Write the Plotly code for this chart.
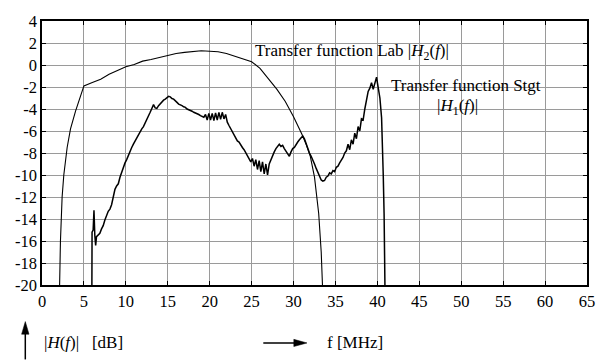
import plotly.graph_objects as go

# ---- data ----
h2_f = [2.1, 2.2, 2.4, 2.6, 3.0, 3.4, 4.0, 4.6, 5.0, 6.0, 7.0, 8.0, 9.0, 10.0, 11.0, 12.0,
        13.0, 14.0, 15.0, 16.0, 17.0, 18.0, 19.0, 20.0, 21.0, 22.0, 23.0, 24.0, 25.0,
        26.0, 27.0, 28.0, 29.0, 30.0, 31.0, 31.5, 32.0, 32.5, 33.0, 33.3, 33.45]
h2_db = [-20, -16, -12, -10, -7.5, -5.8, -4.2, -2.8, -1.9, -1.6, -1.3, -0.85, -0.5, -0.15,
         0.05, 0.35, 0.5, 0.7, 0.85, 1.05, 1.15, 1.25, 1.3, 1.25, 1.2, 1.05, 0.8, 0.55, 0.3,
         -0.3, -1.2, -2.2, -3.3, -4.7, -6.3, -7.2, -8.3, -10.2, -13.5, -17, -20]

h1_f = [5.95, 5.97, 6.1, 6.2, 6.3, 6.4, 6.5, 6.7, 6.9, 7.1, 7.3, 7.5, 7.7, 7.9, 8.1, 8.3,
        8.5, 8.7, 8.9, 9.1, 9.3, 9.5, 9.7, 9.9, 10.1, 10.3, 10.5, 10.7, 10.9, 11.1, 11.3,
        11.5, 11.7, 11.9, 12.1, 12.3, 12.5, 12.7, 12.9, 13.1, 13.3, 13.5, 13.7, 13.9, 14.1,
        14.3, 14.5, 14.7, 14.9, 15.1, 15.3, 15.5, 15.7, 15.9, 16.1, 16.3, 16.5, 16.7, 16.9,
        17.1, 17.3, 17.5, 17.7, 17.9, 18.1, 18.3, 18.5, 18.7, 18.9, 19.1, 19.3, 19.5, 19.7,
        19.9, 20.1, 20.3, 20.5, 20.7, 20.9, 21.1, 21.3, 21.5, 21.7, 21.9, 22.1, 22.3, 22.5,
        22.7, 22.9, 23.1, 23.3, 23.5, 23.7, 23.9, 24.1, 24.3, 24.5, 24.7, 24.9, 25.1, 25.3,
        25.5, 25.7, 25.9, 26.1, 26.3, 26.5, 26.7, 26.9, 27.1, 27.3, 27.5, 27.7, 27.9, 28.1,
        28.3, 28.5, 28.7, 28.9, 29.1, 29.3, 29.5, 29.7, 29.9, 30.1, 30.3, 30.5, 30.7, 30.9,
        31.1, 31.3, 31.5, 31.7, 31.9, 32.1, 32.3, 32.5, 32.7, 32.9, 33.1, 33.3, 33.5, 33.7,
        33.9, 34.1, 34.3, 34.5, 34.7, 34.9, 35.1, 35.3, 35.5, 35.7, 35.9, 36.1, 36.3, 36.5,
        36.7, 36.9, 37.1, 37.3, 37.5, 37.7, 37.9, 38.1, 38.3, 38.5, 38.7, 38.9, 39.1, 39.3,
        39.5, 39.7, 39.9, 40.0, 40.1, 40.3, 40.5, 40.6, 40.7, 40.8, 40.9]
h1_db = [-20, -15.2, -15.0, -13.2, -15.5, -16.4, -15.6, -15.4, -15.3, -14.9, -14.6, -14.1,
         -13.6, -13.3, -13.1, -12.7, -12.0, -11.3, -11.0, -10.8, -10.2, -9.7, -9.3, -8.9,
         -8.6, -8.2, -7.9, -7.5, -7.2, -6.9, -6.6, -6.3, -6.0, -5.8, -5.6, -5.3, -5.0, -4.7,
         -4.3, -3.95, -3.6, -3.9, -3.95, -3.7, -3.5, -3.4, -3.2, -3.1, -3.0, -2.85, -2.9,
         -3.05, -3.1, -3.3, -3.4, -3.55, -3.6, -3.7, -3.8, -3.85, -4.0, -4.05, -4.15, -4.2,
         -4.3, -4.35, -4.45, -4.5, -4.6, -4.7, -4.75, -4.5, -5.0, -4.4, -5.0, -4.4, -5.05,
         -4.35, -5.0, -4.3, -4.95, -4.3, -4.9, -4.5, -5.2, -5.5, -5.8, -6.0, -6.3, -6.6,
         -6.9, -7.0, -7.3, -7.5, -7.7, -8.0, -8.3, -8.6, -8.8, -8.5, -9.2, -8.6, -9.5, -8.7,
         -9.7, -8.8, -9.9, -9.0, -10.0, -9.0, -8.6, -8.3, -7.9, -7.6, -7.4, -7.2, -7.4, -7.3,
         -7.6, -7.8, -8.0, -8.3, -7.9, -7.6, -7.5, -7.2, -7.0, -6.8, -6.6, -6.45, -6.7, -7.2,
         -7.6, -8.0, -8.3, -8.6, -9.0, -9.4, -9.8, -10.2, -10.45, -10.55, -10.5, -10.2, -10.1,
         -9.8, -9.9, -9.6, -9.7, -9.3, -9.2, -8.9, -8.7, -8.4, -8.0, -7.8, -7.2, -7.7, -6.8,
         -7.2, -6.2, -6.7, -5.6, -6.0, -4.9, -5.0, -4.0, -3.0, -2.4, -2.1, -1.6, -2.2, -1.5,
         -1.1, -1.6, -2.2, -3.0, -4.8, -7.0, -10.0, -13.5, -20]

x_ticks = [0, 5, 10, 15, 20, 25, 30, 35, 40, 45, 50, 55, 60, 65]
y_ticks = [4, 2, 0, -2, -4, -6, -8, -10, -12, -14, -16, -18, -20]
y_labels = ["4", "2", "0", "-2", "-4", "-6", "-8", "-10", "-12", "-14", "-16", "-18", "-20"]

FONT = "Liberation Serif"
W, H = 609, 360
L, R, T, B = 41.7, 22.3, 13.3, 74.7
PW, PH = W - L - R, H - T - B


def px(x):
    return (x - L) / PW


def py(y):
    return (H - B - y) / PH


fig = go.Figure()
fig.add_trace(go.Scatter(x=h2_f, y=h2_db, mode="lines",
                         line=dict(color="black", width=1.1), showlegend=False))
fig.add_trace(go.Scatter(x=h1_f, y=h1_db, mode="lines",
                         line=dict(color="black", width=1.5), showlegend=False))

axis_common = dict(showline=True, linecolor="black", linewidth=1.5, mirror="ticks",
                   ticks="inside", ticklen=4, tickcolor="black", tickwidth=1,
                   showgrid=True, gridcolor="#9a9a9a", gridwidth=1, zeroline=False,
                   tickfont=dict(family=FONT, size=16.5, color="black"))

fig.update_xaxes(range=[0, 65], tickvals=x_ticks, ticktext=[str(v) for v in x_ticks],
                 **axis_common)
fig.update_yaxes(range=[-20, 4], tickvals=y_ticks, ticktext=y_labels, **axis_common)

txt = dict(family=FONT, size=17, color="black")
fig.add_annotation(xref="paper", yref="paper", x=px(253), y=py(45), xanchor="left",
                   yanchor="middle", showarrow=False, font=txt,
                   text="Transfer function Lab |<i>H</i><sub>2</sub>(<i>f</i>)|")
fig.add_annotation(xref="paper", yref="paper", x=px(465.5), y=py(80), xanchor="center",
                   yanchor="middle", showarrow=False, font=txt,
                   text="Transfer function Stgt")
fig.add_annotation(xref="paper", yref="paper", x=px(456.7), y=py(102), xanchor="center",
                   yanchor="middle", showarrow=False, font=txt,
                   text="|<i>H</i><sub>1</sub>(<i>f</i>)|")
fig.add_annotation(xref="paper", yref="paper", x=px(42), y=py(345), xanchor="left",
                   yanchor="middle", showarrow=False, font=txt,
                   text="|<i>H</i>(<i>f</i>)|\u00a0\u00a0\u00a0[dB]")
fig.add_annotation(xref="paper", yref="paper", x=px(325), y=py(345), xanchor="left",
                   yanchor="middle", showarrow=False, font=txt,
                   text="f [MHz]")

# arrows as shapes (line + filled head)
line_style = dict(color="black", width=1.5)
fig.add_shape(type="line", xref="paper", yref="paper", x0=px(25), x1=px(25),
              y0=py(362), y1=py(334), line=line_style)
fig.add_shape(type="path", xref="paper", yref="paper",
              path=f"M {px(25)} {py(323)} L {px(21.3)} {py(336)} L {px(28.7)} {py(336)} Z",
              fillcolor="black", line=dict(color="black", width=0.5))
fig.add_shape(type="line", xref="paper", yref="paper", x0=px(263), x1=px(296),
              y0=py(345), y1=py(345), line=line_style)
fig.add_shape(type="path", xref="paper", yref="paper",
              path=f"M {px(306.7)} {py(345)} L {px(293.5)} {py(341.3)} L {px(293.5)} {py(348.7)} Z",
              fillcolor="black", line=dict(color="black", width=0.5))

fig.update_layout(width=W, height=H,
                  margin=dict(l=L, r=R, t=T, b=B),
                  paper_bgcolor="white", plot_bgcolor="white",
                  font=dict(family=FONT, size=14, color="black"))

fig.write_html("out.html")
